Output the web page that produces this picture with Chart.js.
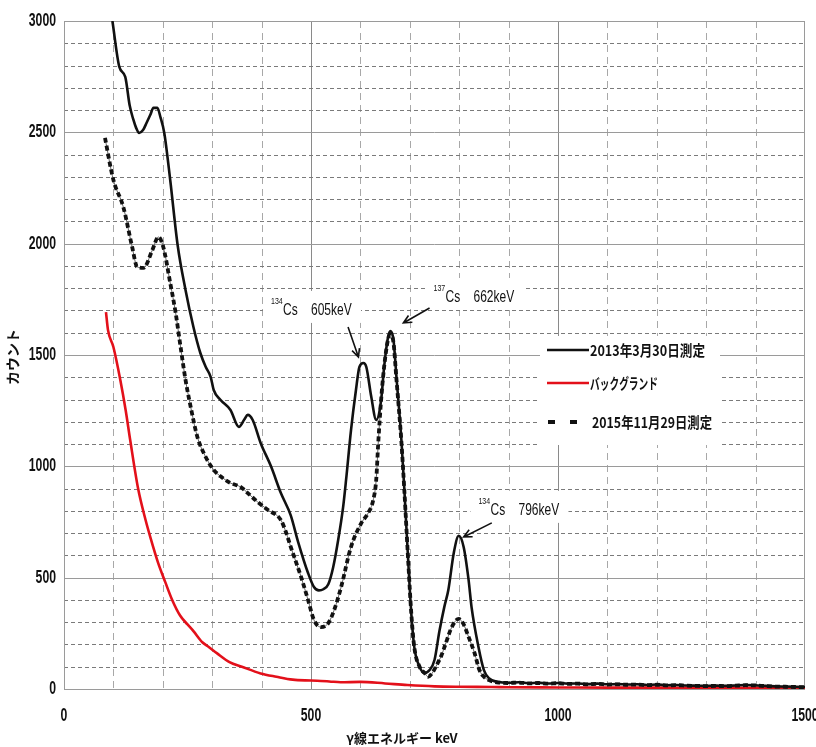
<!DOCTYPE html>
<html>
<head>
<meta charset="utf-8">
<script src="https://cdn.jsdelivr.net/npm/chart.js@4.4.0/dist/chart.umd.min.js"></script>
<style>
  body { margin: 0; background: #fff; }
  canvas { display: block; }
</style>
</head>
<body>
<canvas id="spectrum" width="816" height="747"></canvas>
<script>
// values (energy in keV, counts)
const solidKeV = [98,112,124,133,140,146,152,160,167,175,181,189,195,203,215,230,246,262,276,287,297,303,317,337,354,365,372,382,398,419,439,459,474,494,506,516,525,535,545,555,565,571,581,591,598,606,612,622,632,642,648,656,661,667,673,683,689,697,703,709,720,730,740,750,760,770,778,789,799,809,819,825,839,850,860,880,
  900,920,940,960,980,1000,1020,1040,1060,1080,1100,1120,1140,1160,1180,1200,1220,1240,1260,1280,1300,1320,1340,1360,1380,1400,1420,1440,1460,1480,1500];
const solidCounts = [3000,2794,2749,2620,2560,2520,2497,2510,2542,2580,2610,2610,2570,2497,2286,1994,1792,1626,1509,1446,1401,1343,1298,1253,1177,1210,1231,1208,1105,1000,880,780,660,521,458,443,448,470,548,669,817,939,1163,1343,1446,1464,1446,1312,1208,1298,1446,1581,1608,1568,1401,1118,894,566,341,189,99,72,85,130,260,370,445,611,688,638,490,368,189,85,49,31,
  28,30,26,28,25,27,24,25,22,24,21,22,20,21,18,20,17,18,16,15,14,15,14,16,18,17,14,12,11,10,9];

const dashedKeV = [83,100,120,138,148,161,179,191,201,215,226,236,246,258,270,285,303,320,337,358,372,392,413,439,450,459,480,494,506,520,535,547,561,581,602,616,626,632,636,642,648,656,661,667,673,683,689,697,703,709,720,730,737,745,755,764,772,785,799,809,819,831,841,850,860,880,
  900,920,940,960,980,1000,1020,1040,1060,1080,1100,1120,1140,1160,1180,1200,1220,1240,1260,1280,1300,1320,1340,1360,1380,1400,1420,1440,1460,1480,1500];
const dashedCounts = [2475,2286,2165,1985,1896,1891,1972,2030,1985,1824,1689,1536,1388,1250,1132,1050,984,950,925,907,880,840,804,759,700,638,503,400,310,278,296,355,458,638,746,791,849,939,1100,1300,1446,1570,1592,1555,1390,1110,890,566,341,189,99,72,55,70,110,150,200,278,315,290,234,162,85,55,40,29,
  27,29,25,27,24,26,23,24,21,23,20,21,19,20,17,19,16,17,15,14,13,14,13,15,17,16,13,11,10,9,8];

const bgKeV = [85,89,100,114,125,134,150,165,175,190,205,219,235,250,262,280,293,310,335,360,398,430,463,500,537,560,600,650,695,750,800,866,900,1000,1100,1200,1300,1400,1500];
const bgCounts = [1693,1613,1536,1388,1250,1118,900,760,680,570,480,400,330,290,260,210,189,160,121,100,70,55,42,38,34,30,32,25,18,12,10,9,8,7,6,6,5,5,4];

const xTicks = [0, 500, 1000, 1500];
const yTicks = [0, 500, 1000, 1500, 2000, 2500, 3000];
const legendLabels = ['2013年3月30日測定', 'バックグランド', '2015年11月29日測定'];

// peak labels, anchored in data units
const peaks = [
  { iso: '134', energy: '605keV', at: [419, 1680], tail: [575, 1626], head: [596, 1491] },
  { iso: '137', energy: '662keV', at: [748, 1738], tail: [740, 1711], head: [687, 1644] },
  { iso: '134', energy: '796keV', at: [839, 782], tail: [866, 746], head: [809, 683] }
];

const toPoints = (xs, ys) => xs.map((v, i) => ({ x: v, y: ys[i] }));

const NUM_FONT = 'bold 18px "Liberation Sans", Arial, sans-serif';
const JP_FONT = '"Noto Sans CJK JP", sans-serif';

function txt(ctx, s, x, y, font, sx, align, base) {
    ctx.save();
    ctx.translate(x, y);
    ctx.scale(sx, 1);
    ctx.font = font;
    ctx.textAlign = align || 'left';
    ctx.textBaseline = base || 'alphabetic';
    ctx.fillText(s, 0, 0);
    ctx.restore();
}

function fitText(ctx, s, x, y, font, width) {
    ctx.font = font;
    const sx = width / ctx.measureText(s).width;
    txt(ctx, s, x, y, font, sx, 'left', 'middle');
}

function arrow(ctx, x1, y1, x2, y2) {
    const a = Math.atan2(y2 - y1, x2 - x1);
    const h = 9;
    ctx.beginPath();
    ctx.moveTo(x1, y1);
    ctx.lineTo(x2, y2);
    ctx.moveTo(x2 - h * Math.cos(a - 0.45), y2 - h * Math.sin(a - 0.45));
    ctx.lineTo(x2, y2);
    ctx.lineTo(x2 - h * Math.cos(a + 0.45), y2 - h * Math.sin(a + 0.45));
    ctx.stroke();
}

const sheetPlugin = {
    id: 'sheet',
    beforeDraw(chart) {
        const ctx = chart.ctx;
        ctx.save();
        ctx.fillStyle = '#fff';
        ctx.fillRect(0, 0, chart.width, chart.height);
        ctx.restore();
    },
    beforeDatasetsDraw(chart) {
        const { ctx, chartArea: a, scales: { x, y } } = chart;
        ctx.save();
        ctx.lineWidth = 1;

        // vertical grid, minor every 100 keV
        for (let v = 100; v < 1500; v += 100) {
            const px = Math.round(x.getPixelForValue(v)) + 0.5;
            const major = v % 500 === 0;
            ctx.strokeStyle = major ? '#8a8a8a' : '#a8a8a8';
            ctx.setLineDash(major ? [] : [7, 5]);
            ctx.beginPath();
            ctx.moveTo(px, a.top);
            ctx.lineTo(px, a.bottom);
            ctx.stroke();
        }
        // horizontal grid, minor every 100 counts
        for (let v = 100; v < 3000; v += 100) {
            const py = Math.round(y.getPixelForValue(v)) + 0.5;
            const major = v % 500 === 0;
            ctx.strokeStyle = major ? '#9a9a9a' : '#7a7a7a';
            ctx.setLineDash(major ? [] : [4, 3]);
            ctx.beginPath();
            ctx.moveTo(a.left, py);
            ctx.lineTo(a.right, py);
            ctx.stroke();
        }
        ctx.setLineDash([]);
        ctx.strokeStyle = '#9a9a9a';
        ctx.strokeRect(a.left + 0.5, a.top + 0.5, a.right - a.left - 1, a.bottom - a.top);

        // white patches behind the peak labels and the legend
        ctx.fillStyle = '#fff';
        peaks.forEach(p => {
            const px = x.getPixelForValue(p.at[0]);
            const py = y.getPixelForValue(p.at[1]);
            ctx.fillRect(px - 8, py - 24, 98, 32);
        });
        ctx.fillRect(540, 336, 180, 109);
        ctx.restore();
    },
    afterDatasetsDraw(chart) {
        const { ctx, chartArea: a, scales: { x, y } } = chart;
        ctx.save();
        ctx.fillStyle = '#111';

        // tick labels
        yTicks.forEach(v => txt(ctx, String(v), 56, y.getPixelForValue(v), NUM_FONT, 0.68, 'right', 'middle'));
        xTicks.forEach(v => txt(ctx, String(v), x.getPixelForValue(v), 716, NUM_FONT, 0.68, 'center', 'middle'));

        // axis titles
        txt(ctx, 'γ線エネルギー keV', 402, 738, 'bold 13px ' + JP_FONT, 1, 'center', 'middle');
        ctx.save();
        ctx.translate(13, 357);
        ctx.rotate(-Math.PI / 2);
        ctx.font = 'bold 14px ' + JP_FONT;
        ctx.textAlign = 'center';
        ctx.textBaseline = 'middle';
        ctx.fillText('カウント', 0, 0);
        ctx.restore();

        // peak labels and arrows
        ctx.strokeStyle = '#111';
        ctx.lineWidth = 1.6;
        peaks.forEach(p => {
            const px = x.getPixelForValue(p.at[0]);
            const py = y.getPixelForValue(p.at[1]);
            txt(ctx, p.iso, px, py - 11, '9px "Liberation Sans", sans-serif', 0.78);
            txt(ctx, 'Cs', px + 12, py, '16px "Liberation Sans", sans-serif', 0.75);
            txt(ctx, p.energy, px + 40, py, '16px "Liberation Sans", sans-serif', 0.75);
            arrow(ctx, x.getPixelForValue(p.tail[0]), y.getPixelForValue(p.tail[1]),
                x.getPixelForValue(p.head[0]), y.getPixelForValue(p.head[1]));
        });

        // legend
        const rows = [350, 383, 422];
        ctx.lineWidth = 2.6;
        ctx.strokeStyle = '#111';
        ctx.beginPath(); ctx.moveTo(547, rows[0]); ctx.lineTo(589, rows[0]); ctx.stroke();
        ctx.strokeStyle = '#e3101a';
        ctx.beginPath(); ctx.moveTo(547, rows[1]); ctx.lineTo(589, rows[1]); ctx.stroke();
        ctx.fillStyle = '#111';
        ctx.fillRect(548, rows[2] - 2, 7, 4);
        ctx.fillRect(570, rows[2] - 2, 7, 4);
        const lf = 'bold 15px ' + JP_FONT;
        fitText(ctx, legendLabels[0], 590, rows[0], lf, 115);
        fitText(ctx, legendLabels[1], 590, rows[1], lf, 68);
        fitText(ctx, legendLabels[2], 592, rows[2], lf, 120);
        ctx.restore();
    }
};

const lineBase = { pointRadius: 0, fill: false, cubicInterpolationMode: 'monotone' };

new Chart(document.getElementById('spectrum'), {
    type: 'line',
    data: {
        datasets: [
            { ...lineBase, label: legendLabels[0], data: toPoints(solidKeV, solidCounts),
              borderColor: '#111', borderWidth: 2.6, order: 0 },
            { ...lineBase, label: legendLabels[2], data: toPoints(dashedKeV, dashedCounts),
              borderColor: '#111', borderWidth: 3.8, borderDash: [5, 3], order: 1 },
            { ...lineBase, label: 'thin', data: toPoints(dashedKeV, dashedCounts),
              borderColor: '#666', borderWidth: 1, order: 2 },
            { ...lineBase, label: legendLabels[1], data: toPoints(bgKeV, bgCounts),
              borderColor: '#e3101a', borderWidth: 2.6, order: 3 }
        ]
    },
    options: {
        responsive: false,
        animation: false,
        devicePixelRatio: 1,
        layout: { padding: { top: 21, right: 11, left: 0, bottom: 0 } },
        plugins: { legend: { display: false }, tooltip: { enabled: false } },
        scales: {
            x: {
                type: 'linear', min: 0, max: 1500,
                ticks: { display: false }, grid: { display: false }, border: { display: false },
                afterFit: s => { s.height = 58; }
            },
            y: {
                type: 'linear', min: 0, max: 3000,
                ticks: { display: false }, grid: { display: false }, border: { display: false },
                afterFit: s => { s.width = 64; }
            }
        }
    },
    plugins: [sheetPlugin]
});
</script>
</body>
</html>
